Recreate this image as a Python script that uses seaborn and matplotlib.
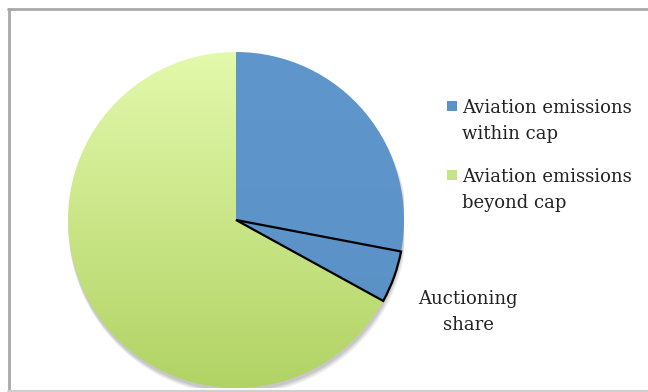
import numpy as np
import matplotlib
matplotlib.use("Agg")
import matplotlib.pyplot as plt
from matplotlib.patches import Rectangle
from matplotlib.lines import Line2D
from matplotlib.colors import LinearSegmentedColormap
import seaborn as sns

# Shares of aviation emissions (percent)
segments = ["Aviation emissions within cap", "Auctioning share", "Aviation emissions beyond cap"]
shares = [28, 5, 67]
legend_labels = ["Aviation emissions\nwithin cap", "Aviation emissions\nbeyond cap"]
slice_label = "Auctioning\nshare"

blue = "#5b93c9"
green_top = "#e3f9ac"
green_bottom = "#b1d364"

sns.set_theme(style="white")
plt.rcParams["font.family"] = ["DejaVu Serif"]

fig = plt.figure(figsize=(6.48, 3.92), dpi=100)
fig.patch.set_facecolor("white")

W, H = 648, 392
cx, cy, r = 236, 220, 168
ax = fig.add_axes([(cx - r) / W, (H - cy - r) / H, 2 * r / W, 2 * r / H])
ax.set_axis_off()

# soft drop shadow under the pie
for k, a in enumerate([0.05, 0.05, 0.06, 0.07]):
    sh = plt.Circle((0.004 + 0.002 * (3 - k), -0.02 - 0.004 * (3 - k)), 1.0 + 0.003 * (3 - k),
                    color="black", alpha=a, zorder=0, lw=0)
    ax.add_patch(sh)

wedges, _ = ax.pie(shares, startangle=90, counterclock=False,
                   colors=[blue, blue, green_bottom], radius=1.0,
                   wedgeprops=dict(linewidth=0, edgecolor="none"))

# gradient fills clipped to the wedges
y = np.linspace(1, 0, 256).reshape(-1, 1)
green_cmap = LinearSegmentedColormap.from_list("g", [green_bottom, green_top])
blue_cmap = LinearSegmentedColormap.from_list("b", ["#5a90c4", "#5f97cd"])
for w, cmap in [(wedges[2], green_cmap), (wedges[0], blue_cmap), (wedges[1], blue_cmap)]:
    w.set_facecolor("none")
    im = ax.imshow(y, extent=(-1, 1, -1, 1), cmap=cmap, aspect="auto", zorder=1,
                   interpolation="bilinear", origin="upper")
    im.set_clip_path(w)

# outline of the auctioning slice
wedges[1].set_edgecolor("black")
wedges[1].set_linewidth(1.6)
wedges[1].set_zorder(3)

ax.set_xlim(-1, 1)
ax.set_ylim(-1, 1)

text_color = "#222222"
fs = 13

# slice label
fig.text(468 / W, 1 - 312 / H, slice_label, ha="center", va="center",
         fontsize=fs, color=text_color, linespacing=1.55)

# legend: square key aligned with the first line of each label
legend_colors = [blue, "#c6e585"]
legend_tops = [99, 168]
for lab, col, top in zip(legend_labels, legend_colors, legend_tops):
    fig.add_artist(Rectangle((447 / W, 1 - (top + 12) / H), 10 / W, 10 / H,
                             transform=fig.transFigure, facecolor=col, edgecolor="none"))
    fig.text(462 / W, 1 - top / H, lab, ha="left", va="top",
             fontsize=fs, color=text_color, linespacing=1.55)

# chart frame
fig.add_artist(Line2D([8.5 / W, 8.5 / W], [1 - 9 / H, 1 - 390 / H], transform=fig.transFigure,
                      color="#a8a8a8", lw=2))
fig.add_artist(Line2D([8 / W, 1], [1 - 9 / H, 1 - 9 / H], transform=fig.transFigure,
                      color="#a8a8a8", lw=2))
fig.add_artist(Line2D([8 / W, 1], [1 - 390.5 / H, 1 - 390.5 / H], transform=fig.transFigure,
                      color="#cfcfcf", lw=1.5))

fig.savefig("out.png", dpi=100)
